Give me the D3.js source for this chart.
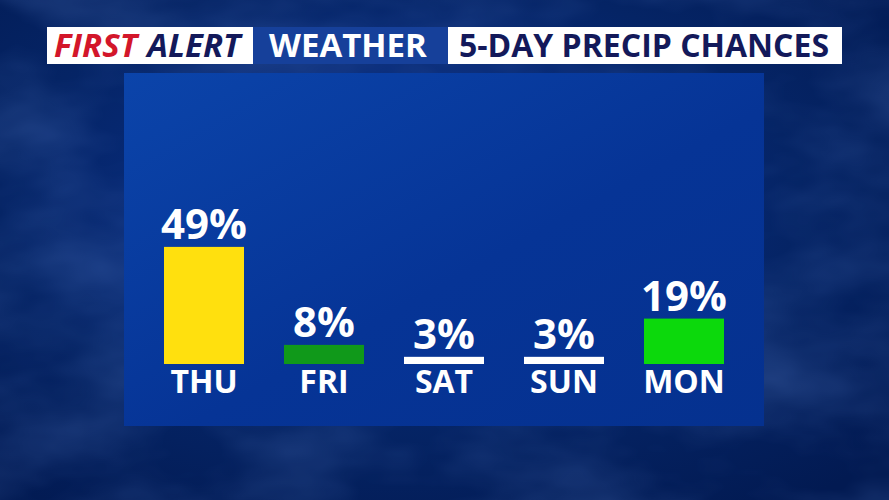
<!DOCTYPE html>
<html>
<head>
<meta charset="utf-8">
<script src="https://cdn.jsdelivr.net/npm/d3@7"></script>
<style>
  body { margin: 0; background: #031c58; }
  svg { display: block; }
  text { font-family: "Open Sans", "DejaVu Sans", sans-serif; font-weight: 700; }
</style>
</head>
<body>
<svg></svg>
<script>
// chart data
var days = ["THU", "FRI", "SAT", "SUN", "MON"];
var chances = [49, 8, 3, 3, 19];
var titleParts = ["FIRST", "ALERT", "WEATHER", "5-DAY PRECIP CHANCES"];

var width = 889,
    height = 500,
    fmt = function(v) { return v + "%"; };

var svg = d3.select("svg")
    .attr("width", width)
    .attr("height", height);

var defs = svg.append("defs");

// background gradient + cloudy texture
var bg = defs.append("radialGradient")
    .attr("id", "bgGrad")
    .attr("cx", "45%").attr("cy", "40%").attr("r", "75%");
bg.append("stop").attr("offset", "0%").attr("stop-color", "#0a3290");
bg.append("stop").attr("offset", "60%").attr("stop-color", "#052465");
bg.append("stop").attr("offset", "100%").attr("stop-color", "#021a52");

var clouds = defs.append("filter")
    .attr("id", "clouds")
    .attr("x", 0).attr("y", 0).attr("width", "100%").attr("height", "100%");
clouds.append("feTurbulence")
    .attr("type", "fractalNoise")
    .attr("baseFrequency", "0.006 0.012")
    .attr("numOctaves", 4)
    .attr("seed", 7);
clouds.append("feColorMatrix")
    .attr("values", "0 0 0 0 0.15  0 0 0 0 0.3  0 0 0 0 0.75  0 0 0 0.9 -0.3");

// panel gradient
var pg = defs.append("linearGradient")
    .attr("id", "panelGrad")
    .attr("x1", "0%").attr("y1", "0%").attr("x2", "100%").attr("y2", "100%");
pg.append("stop").attr("offset", "0%").attr("stop-color", "#0b44aa");
pg.append("stop").attr("offset", "55%").attr("stop-color", "#063496");
pg.append("stop").attr("offset", "100%").attr("stop-color", "#05318f");

svg.append("rect")
    .attr("width", width).attr("height", height)
    .attr("fill", "url(#bgGrad)");
svg.append("rect")
    .attr("width", width).attr("height", height)
    .attr("filter", "url(#clouds)")
    .attr("opacity", 0.45);

// header
var header = svg.append("g").attr("class", "header");
header.append("rect")
    .attr("x", 47).attr("y", 27).attr("width", 206).attr("height", 37)
    .attr("fill", "#ffffff");
header.append("rect")
    .attr("x", 253).attr("y", 27).attr("width", 195).attr("height", 37)
    .attr("fill", "#16409a");
header.append("rect")
    .attr("x", 448).attr("y", 27).attr("width", 394).attr("height", 37)
    .attr("fill", "#ffffff");

var fa = header.append("text")
    .attr("x", 54).attr("y", 57)
    .style("font-size", "33px")
    .style("font-style", "italic");
fa.append("tspan").attr("fill", "#d3162a").text(titleParts[0]);
fa.append("tspan").attr("fill", "#13195a").attr("dx", 10).text(titleParts[1]);

header.append("text")
    .attr("x", 348).attr("y", 57)
    .attr("text-anchor", "middle")
    .attr("fill", "#ffffff")
    .style("font-size", "33px")
    .text(titleParts[2]);

header.append("text")
    .attr("x", 644).attr("y", 57)
    .attr("text-anchor", "middle")
    .attr("fill", "#13195a")
    .style("font-size", "32px")
    .text(titleParts[3]);

// chart panel
svg.append("rect")
    .attr("x", 124).attr("y", 73)
    .attr("width", 640).attr("height", 353)
    .attr("fill", "url(#panelGrad)");

var x = d3.scaleBand()
    .domain(days)
    .range([144, 744])
    .paddingInner(1 / 3)
    .paddingOuter(1 / 6);

var y = d3.scaleLinear()
    .domain([0, 100])
    .range([364, 125]);

// colour by chance of rain
var color = d3.scaleThreshold()
    .domain([5, 15, 30])
    .range(["#ffffff", "#10991a", "#0cd90c", "#ffe00e"]);

var data = days.map(function(d, i) { return { day: d, value: chances[i] }; });

var bars = svg.append("g").attr("class", "bars")
    .selectAll("g")
    .data(data)
    .enter().append("g");

bars.append("rect")
    .attr("x", function(d) { return x(d.day); })
    .attr("y", function(d) { return y(d.value); })
    .attr("width", x.bandwidth())
    .attr("height", function(d) { return y(0) - y(d.value); })
    .attr("fill", function(d) { return color(d.value); });

bars.append("text")
    .attr("x", function(d) { return x(d.day) + x.bandwidth() / 2; })
    .attr("y", function(d) { return y(d.value) - 8; })
    .attr("text-anchor", "middle")
    .attr("fill", "#ffffff")
    .style("font-size", "42px")
    .text(function(d) { return fmt(d.value); });

bars.append("text")
    .attr("x", function(d) { return x(d.day) + x.bandwidth() / 2; })
    .attr("y", 393)
    .attr("text-anchor", "middle")
    .attr("fill", "#ffffff")
    .style("font-size", "32px")
    .text(function(d) { return d.day; });
</script>
</body>
</html>
